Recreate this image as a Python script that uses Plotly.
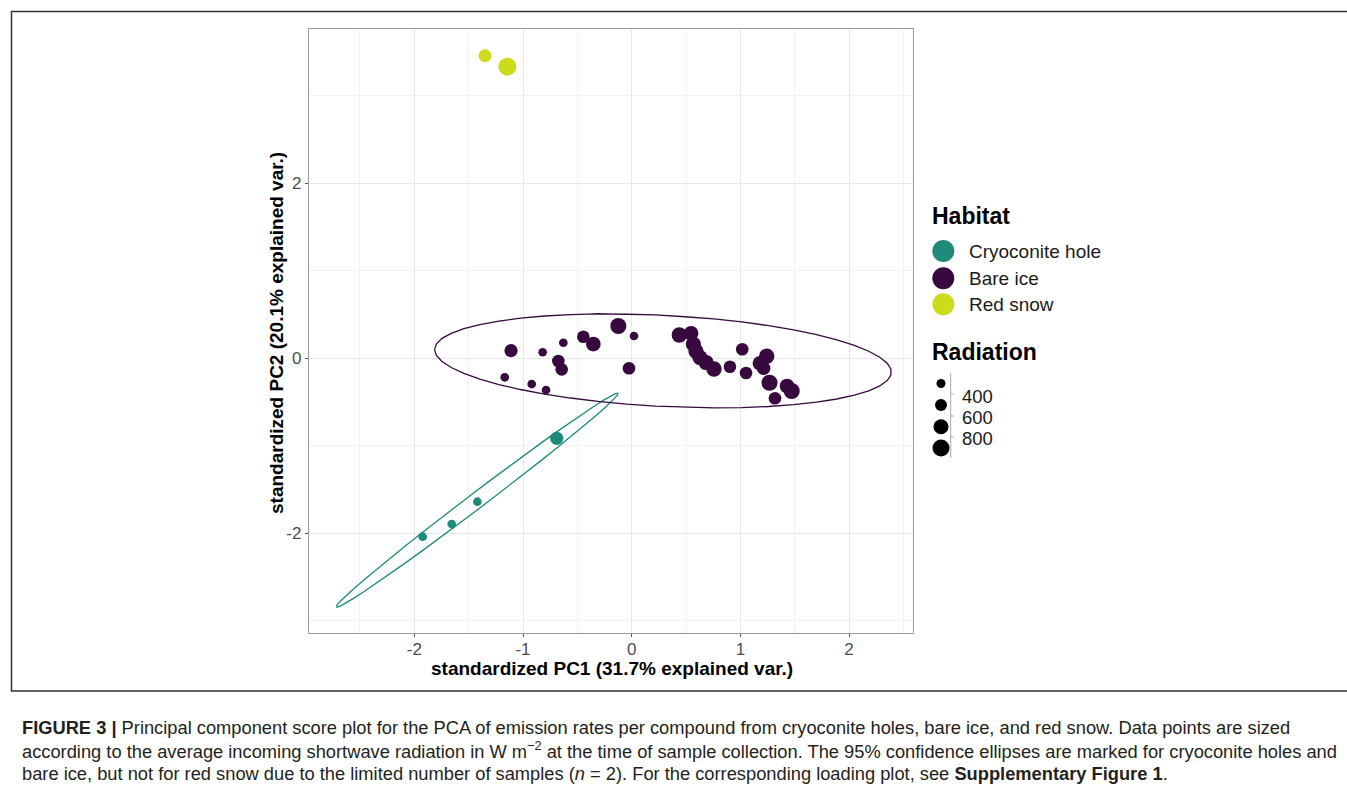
import numpy as np
import plotly.graph_objects as go

W, H = 1347, 793

# ---------------- data ----------------
habitats = ["Cryoconite hole", "Bare ice", "Red snow"]
habitat_colors = ["#1F8A7A", "#37093F", "#CCDC1C"]

cryo_pc1 = [-1.923, -1.656, -1.420, -0.690]
cryo_pc2 = [-2.039, -1.894, -1.639, -0.914]
cryo_rad = [390, 390, 390, 580]

bare_pc1 = [-1.110, -1.168, -0.819, -0.629, -0.920, -0.788, -0.675, -0.644, -0.445, -0.353,
            -0.123, 0.021, -0.025, 0.438, 0.546, 0.567, 0.592, 0.628, 0.684, 0.757,
            0.904, 1.017, 1.052, 1.242, 1.180, 1.213, 1.268, 1.429, 1.472, 1.318]
bare_pc2 = [0.087, -0.217, 0.069, 0.178, -0.294, -0.362, -0.031, -0.126, 0.247, 0.163,
            0.369, 0.255, -0.114, 0.266, 0.286, 0.163, 0.078, 0.009, -0.048, -0.122,
            -0.096, 0.103, -0.168, 0.023, -0.057, -0.114, -0.279, -0.317, -0.374, -0.457]
bare_rad = [580, 390, 390, 390, 390, 390, 550, 550, 550, 660,
            740, 390, 550, 700, 660, 690, 690, 690, 690, 700,
            550, 550, 550, 700, 660, 600, 740, 660, 740, 550]

red_pc1 = [-1.350, -1.144]
red_pc2 = [3.458, 3.333]
red_rad = [570, 865]

rad_breaks = [400, 600, 800]
rad_keys = [400, 520, 680, 800]

x_ticks = [-2, -1, 0, 1, 2]
y_ticks = [-2, 0, 2]

x_title = "standardized PC1 (31.7% explained var.)"
y_title = "standardized PC2 (20.1% explained var.)"

caption_lines = [
    "<b>FIGURE 3 |</b> Principal component score plot for the PCA of emission rates per compound from cryoconite holes, bare ice, and red snow. Data points are sized",
    "according to the average incoming shortwave radiation in W m<sup>\u22122</sup> at the time of sample collection. The 95% confidence ellipses are marked for cryoconite holes and",
    "bare ice, but not for red snow due to the limited number of samples (<i>n</i> = 2). For the corresponding loading plot, see <b>Supplementary Figure 1</b>.",
]


# ---------------- helpers ----------------
def rad_to_diam(r):
    r = np.asarray(r, float)
    return np.sqrt(81 + 208 * (r - 400) / 400)


def ellipse(xs, ys, prob=0.95):
    # ggbiplot-style normal data ellipse
    X = np.column_stack([xs, ys])
    sigma = np.cov(X, rowvar=False)
    mu = X.mean(axis=0)
    ed = np.sqrt(-2 * np.log(1 - prob))  # sqrt(qchisq(prob, 2))
    theta = np.concatenate([np.linspace(-np.pi, np.pi, 50), np.linspace(np.pi, -np.pi, 50)])
    circ = np.column_stack([np.cos(theta), np.sin(theta)])
    R = np.linalg.cholesky(sigma).T
    e = circ @ R * ed + mu
    return e[:, 0], e[:, 1]


def px_x(p):
    return p / W


def px_y(p):
    return 1 - p / H


FONT = "Liberation Sans, Arial, sans-serif"
fig = go.Figure()

# ellipses
for xs, ys, col in [(cryo_pc1, cryo_pc2, habitat_colors[0]), (bare_pc1, bare_pc2, habitat_colors[1])]:
    ex, ey = ellipse(xs, ys)
    fig.add_trace(go.Scatter(x=ex, y=ey, mode="lines", line=dict(color=col, width=1.3),
                             showlegend=False, hoverinfo="skip"))

# points
for name, xs, ys, rad, col in [
    (habitats[0], cryo_pc1, cryo_pc2, cryo_rad, habitat_colors[0]),
    (habitats[1], bare_pc1, bare_pc2, bare_rad, habitat_colors[1]),
    (habitats[2], red_pc1, red_pc2, red_rad, habitat_colors[2]),
]:
    fig.add_trace(go.Scatter(x=xs, y=ys, mode="markers", name=name,
                             marker=dict(color=col, size=rad_to_diam(rad), line=dict(width=0), opacity=1),
                             showlegend=False))

# ---------------- custom legend (pixel helper axis, non-overlapping) ----------------
LX0, LX1, LY0, LY1 = 918, 1010, 236, 465
leg_y = [251, 278.3, 304.3]
fig.add_trace(go.Scatter(x=[943.3] * 3, y=leg_y, mode="markers", xaxis="x2", yaxis="y2",
                         marker=dict(color=habitat_colors, size=22, line=dict(width=0)),
                         showlegend=False, hoverinfo="skip", cliponaxis=False))
key_y = [383.5, 405, 426.7, 448]
fig.add_trace(go.Scatter(x=[941] * 4, y=key_y, mode="markers", xaxis="x2", yaxis="y2",
                         marker=dict(color="#000000", size=rad_to_diam(rad_keys), line=dict(width=0), opacity=1),
                         showlegend=False, hoverinfo="skip", cliponaxis=False))
fig.add_trace(go.Scatter(x=[950.7, 950.7], y=[373, 458], mode="lines", xaxis="x2", yaxis="y2",
                         line=dict(color="#AAAAAA", width=1), showlegend=False, hoverinfo="skip"))
for ty in [394, 416, 437]:
    fig.add_trace(go.Scatter(x=[950.7, 953.5], y=[ty, ty], mode="lines", xaxis="x2", yaxis="y2",
                             line=dict(color="#AAAAAA", width=1), showlegend=False, hoverinfo="skip"))

annotations = []
annotations.append(dict(text="<b>Habitat</b>", x=px_x(930), y=px_y(216), xref="paper", yref="paper",
                        xanchor="left", yanchor="middle", showarrow=False,
                        font=dict(family=FONT, size=23, color="black")))
annotations.append(dict(text="<b>Radiation</b>", x=px_x(930), y=px_y(352), xref="paper", yref="paper",
                        xanchor="left", yanchor="middle", showarrow=False,
                        font=dict(family=FONT, size=23, color="black")))
for lab, yy in zip(habitats, leg_y):
    annotations.append(dict(text=lab, x=px_x(967), y=px_y(yy), xref="paper", yref="paper",
                            xanchor="left", yanchor="middle", showarrow=False,
                            font=dict(family=FONT, size=19, color="#1a1a1a")))
for lab, yy in zip(rad_breaks, [396.5, 417.5, 438]):
    annotations.append(dict(text=str(lab), x=px_x(960), y=px_y(yy), xref="paper", yref="paper",
                            xanchor="left", yanchor="middle", showarrow=False,
                            font=dict(family=FONT, size=18.5, color="#1a1a1a")))

# axis titles
annotations.append(dict(text="<b>" + x_title + "</b>", x=px_x(611.5), y=px_y(668), xref="paper", yref="paper",
                        xanchor="center", yanchor="middle", showarrow=False,
                        font=dict(family=FONT, size=19, color="black")))
annotations.append(dict(text="<b>" + y_title + "</b>", x=px_x(276), y=px_y(333), xref="paper", yref="paper",
                        xanchor="center", yanchor="middle", showarrow=False, textangle=-90,
                        font=dict(family=FONT, size=19, color="black")))

# caption
for line, yy in zip(caption_lines, [727, 750, 773]):
    annotations.append(dict(text=line, x=px_x(20), y=px_y(yy), xref="paper", yref="paper",
                            xanchor="left", yanchor="middle", showarrow=False,
                            font=dict(family=FONT, size=18.3, color="#231F20")))

shapes = [dict(type="rect", xref="paper", yref="paper", x0=px_x(11.5), x1=px_x(1360), y0=px_y(691), y1=px_y(11.5),
               line=dict(color="#333333", width=1.5), fillcolor="rgba(0,0,0,0)", layer="below")]

x_lo, x_hi = (309 - 631.7) / 108.7, (913 - 631.7) / 108.7
y_lo, y_hi = (358.3 - 633) / 87.5, (358.3 - 28.7) / 87.5

tickfont = dict(family=FONT, size=17, color="#4D4D4D")
fig.update_layout(
    width=W, height=H, margin=dict(l=0, r=0, t=0, b=0),
    paper_bgcolor="white", plot_bgcolor="rgba(0,0,0,0)",
    showlegend=False,
    xaxis=dict(domain=[309 / W, 913 / W], range=[x_lo, x_hi],
               tickmode="array", tickvals=x_ticks, ticktext=[str(v) for v in x_ticks],
               showgrid=True, gridcolor="#E8E8E8", gridwidth=1.1, zeroline=False,
               minor=dict(dtick=0.5, tick0=0, showgrid=True, gridcolor="#F2F2F2", gridwidth=0.7),
               showline=True, mirror=True, linecolor="#9A9A9A", linewidth=1.3,
               ticks="outside", ticklen=3, tickcolor="#555555", tickwidth=1, tickfont=tickfont,
               ticklabelstandoff=-3, anchor="y"),
    yaxis=dict(domain=[1 - 633 / H, 1 - 28.7 / H], range=[y_lo, y_hi],
               tickmode="array", tickvals=y_ticks, ticktext=[str(v) for v in y_ticks],
               showgrid=True, gridcolor="#E8E8E8", gridwidth=1.1, zeroline=False,
               minor=dict(dtick=1, tick0=0, showgrid=True, gridcolor="#F2F2F2", gridwidth=0.7),
               showline=True, mirror=True, linecolor="#9A9A9A", linewidth=1.3,
               ticks="outside", ticklen=3, tickcolor="#555555", tickwidth=1, tickfont=tickfont,
               anchor="x"),
    xaxis2=dict(domain=[LX0 / W, LX1 / W], range=[LX0, LX1], visible=False, anchor="y2", fixedrange=True),
    yaxis2=dict(domain=[1 - LY1 / H, 1 - LY0 / H], range=[LY1, LY0], visible=False, anchor="x2", fixedrange=True),
    annotations=annotations,
    shapes=shapes,
)

fig.write_html("out.html", config={"displayModeBar": False},
               post_script="document.body.style.margin='0';document.body.style.overflow='hidden';")
